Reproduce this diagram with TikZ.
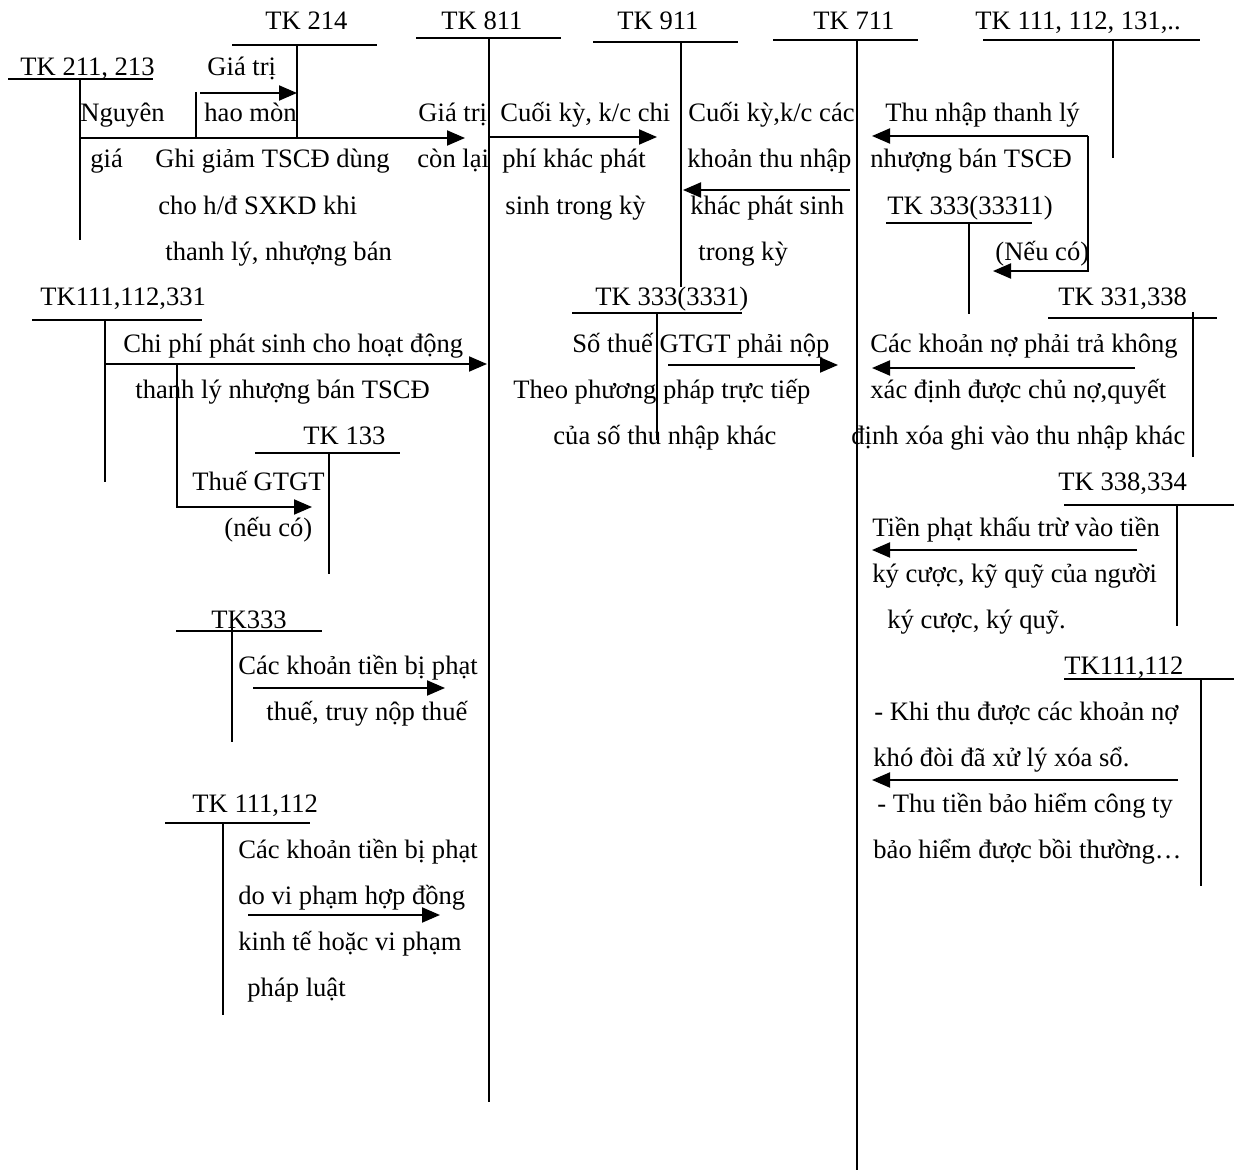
\documentclass[tikz,border=0pt]{standalone}
\usepackage{fontspec}
\setmainfont{Liberation Serif}
\usetikzlibrary{arrows.meta}

\begin{document}
\begin{tikzpicture}[
  x=0.5pt, y=-0.5pt,
  tline/.style={line width=1pt},
  arrow/.style={-{Triangle[length=9pt,width=7.5pt]}, line width=1pt},
  lbl/.style={anchor=base west, inner sep=0pt, font=\fontsize{13.3}{15}\selectfont}
]
\useasboundingbox (0,0) rectangle (1238,1172);

% T accounts: name/left/right/bar y/stem x/stem top/stem bottom
\foreach \nm/\xl/\xr/\yh/\xv/\yt/\yb in {
    t211/8/153/79/80/79/240, t214/232/377/45/297/45/138,
    t811/416/561/38/489/38/1102, t911/593/738/42/681/42/287,
    t711/773/918/40/857/40/1170, t111a/983/1200/40/1113/40/158,
    t33311/886/1032/223/969/223/314, t331/1048/1217/318/1193/312/457,
    t338/1064/1234/505/1177/505/626, t111c/1064/1234/679/1201/679/886,
    t111b/32/202/320/105/320/482, t133/255/400/453/329/453/574,
    t333/176/322/631/232/622/742, t111d/165/310/823/223/823/1015,
    t3331/572/742/313/657/313/440} {
  \draw[tline] (\xl,\yh) -- (\xr,\yh);
  \draw[tline] (\xv,\yt) -- (\xv,\yb);
}

% account names
\node[lbl] (l214) at (265,30) {TK 214};
\node[lbl] (l811) at (441,30) {TK 811};
\node[lbl] (l911) at (617,30) {TK 911};
\node[lbl] (l711) at (813,30) {TK 711};
\node[lbl] (l111a) at (975,30) {TK 111, 112, 131,..};
\node[lbl] (l211) at (20,76) {TK 211, 213};
\node[lbl] (l33311) at (887,214) {TK 333(33311)};
\node[lbl] (l111b) at (40,306) {TK111,112,331};
\node[lbl] (l3331) at (595,306) {TK 333(3331)};
\node[lbl] (l331) at (1058,306) {TK 331,338};
\node[lbl] (l133) at (303,444) {TK 133};
\node[lbl] (l338) at (1058,490) {TK 338,334};
\node[lbl] (l333) at (211,628) {TK333};
\node[lbl] (l111c) at (1064,674) {TK111,112};
\node[lbl] (l111d) at (192,812) {TK 111,112};

% texts, left side
\node[lbl] (hm1) at (207,76) {Giá trị};
\node[lbl] (hm2) at (204,122) {hao mòn};
\node[lbl] (ng1) at (80,122) {Nguyên};
\node[lbl] (ng2) at (90,168) {giá};
\node[lbl] (gg1) at (155,168) {Ghi giảm TSCĐ dùng};
\node[lbl] (gg2) at (158,214) {cho h/đ SXKD khi};
\node[lbl] (gg3) at (165,260) {thanh lý, nhượng bán};
\node[lbl] (cl1) at (418,122) {Giá trị};
\node[lbl] (cl2) at (417,168) {còn lại};
\node[lbl] (cp1) at (123,352) {Chi phí phát sinh cho hoạt động};
\node[lbl] (cp2) at (135,398) {thanh lý nhượng bán TSCĐ};
\node[lbl] (vat1) at (192,490) {Thuế GTGT};
\node[lbl] (vat2) at (224,536) {(nếu có)};
\node[lbl] (ph1) at (238,674) {Các khoản tiền bị phạt};
\node[lbl] (ph2) at (266,720) {thuế, truy nộp thuế};
\node[lbl] (hd1) at (238,858) {Các khoản tiền bị phạt};
\node[lbl] (hd2) at (238,904) {do vi phạm hợp đồng};
\node[lbl] (hd3) at (238,950) {kinh tế hoặc vi phạm};
\node[lbl] (hd4) at (247,996) {pháp luật};

% texts, middle
\node[lbl] (kcc1) at (500,122) {Cuối kỳ, k/c chi};
\node[lbl] (kcc2) at (502,168) {phí khác phát};
\node[lbl] (kcc3) at (505,214) {sinh trong kỳ};
\node[lbl] (kct1) at (688,122) {Cuối kỳ,k/c các};
\node[lbl] (kct2) at (687,168) {khoản thu nhập};
\node[lbl] (kct3) at (690,214) {khác phát sinh};
\node[lbl] (kct4) at (698,260) {trong kỳ};
\node[lbl] (gt1) at (572,352) {Số thuế GTGT phải nộp};
\node[lbl] (gt2) at (513,398) {Theo phương pháp trực tiếp};
\node[lbl] (gt3) at (553,444) {của số thu nhập khác};

% texts, right side
\node[lbl] (tl1) at (885,122) {Thu nhập thanh lý};
\node[lbl] (tl2) at (870,168) {nhượng bán TSCĐ};
\node[lbl] (tl3) at (995,260) {(Nếu có)};
\node[lbl] (no1) at (870,352) {Các khoản nợ phải trả không};
\node[lbl] (no2) at (870,398) {xác định được chủ nợ,quyết};
\node[lbl] (no3) at (851,444) {định xóa ghi vào thu nhập khác};
\node[lbl] (kq1) at (872,536) {Tiền phạt khấu trừ vào tiền};
\node[lbl] (kq2) at (872,582) {ký cược, kỹ quỹ của người};
\node[lbl] (kq3) at (887,628) {ký cược, ký quỹ.};
\node[lbl] (bh1) at (874,720) {- Khi thu được các khoản nợ};
\node[lbl] (bh2) at (873,766) {khó đòi đã xử lý xóa sổ.};
\node[lbl] (bh3) at (877,812) {- Thu tiền bảo hiểm công ty};
\node[lbl] (bh4) at (873,858) {bảo hiểm được bồi thường…};

% arrow ends
\coordinate (a211) at (80,138);   \coordinate (e811a) at (465,138);
\coordinate (tick) at (196,92);   \coordinate (tickb) at (196,138);
\coordinate (a214) at (200,93);   \coordinate (e214) at (297,93);
\coordinate (a811) at (489,137);  \coordinate (e911a) at (657,137);
\coordinate (a711) at (850,190);  \coordinate (e911b) at (683,190);
\coordinate (a111) at (1088,136); \coordinate (e711a) at (872,136);
\coordinate (e33311) at (993,271);
\coordinate (a331) at (1135,368); \coordinate (e711b) at (872,368);
\coordinate (a338) at (1137,550); \coordinate (e711c) at (872,550);
\coordinate (a111c) at (1178,780); \coordinate (e711d) at (872,780);
\coordinate (a111b) at (105,364); \coordinate (e811b) at (487,364);
\coordinate (br133) at (177,364); \coordinate (e133) at (312,507);
\coordinate (a3331) at (668,365); \coordinate (e711e) at (838,365);
\coordinate (a333) at (253,688);  \coordinate (e811c) at (445,688);
\coordinate (a111d) at (248,915); \coordinate (e811d) at (440,915);

\draw[arrow] (a211) -- (e811a);
\draw[tline] (tick) -- (tickb);
\draw[arrow] (a214) -- (e214);
\draw[arrow] (a811) -- (e911a);
\draw[arrow] (a711) -- (e911b);
\draw[arrow] (a111) -- (e711a);
\draw[arrow] (a111) |- (e33311);
\draw[arrow] (a331) -- (e711b);
\draw[arrow] (a338) -- (e711c);
\draw[arrow] (a111c) -- (e711d);
\draw[arrow] (a111b) -- (e811b);
\draw[arrow] (br133) |- (e133);
\draw[arrow] (a3331) -- (e711e);
\draw[arrow] (a333) -- (e811c);
\draw[arrow] (a111d) -- (e811d);
\end{tikzpicture}
\end{document}
